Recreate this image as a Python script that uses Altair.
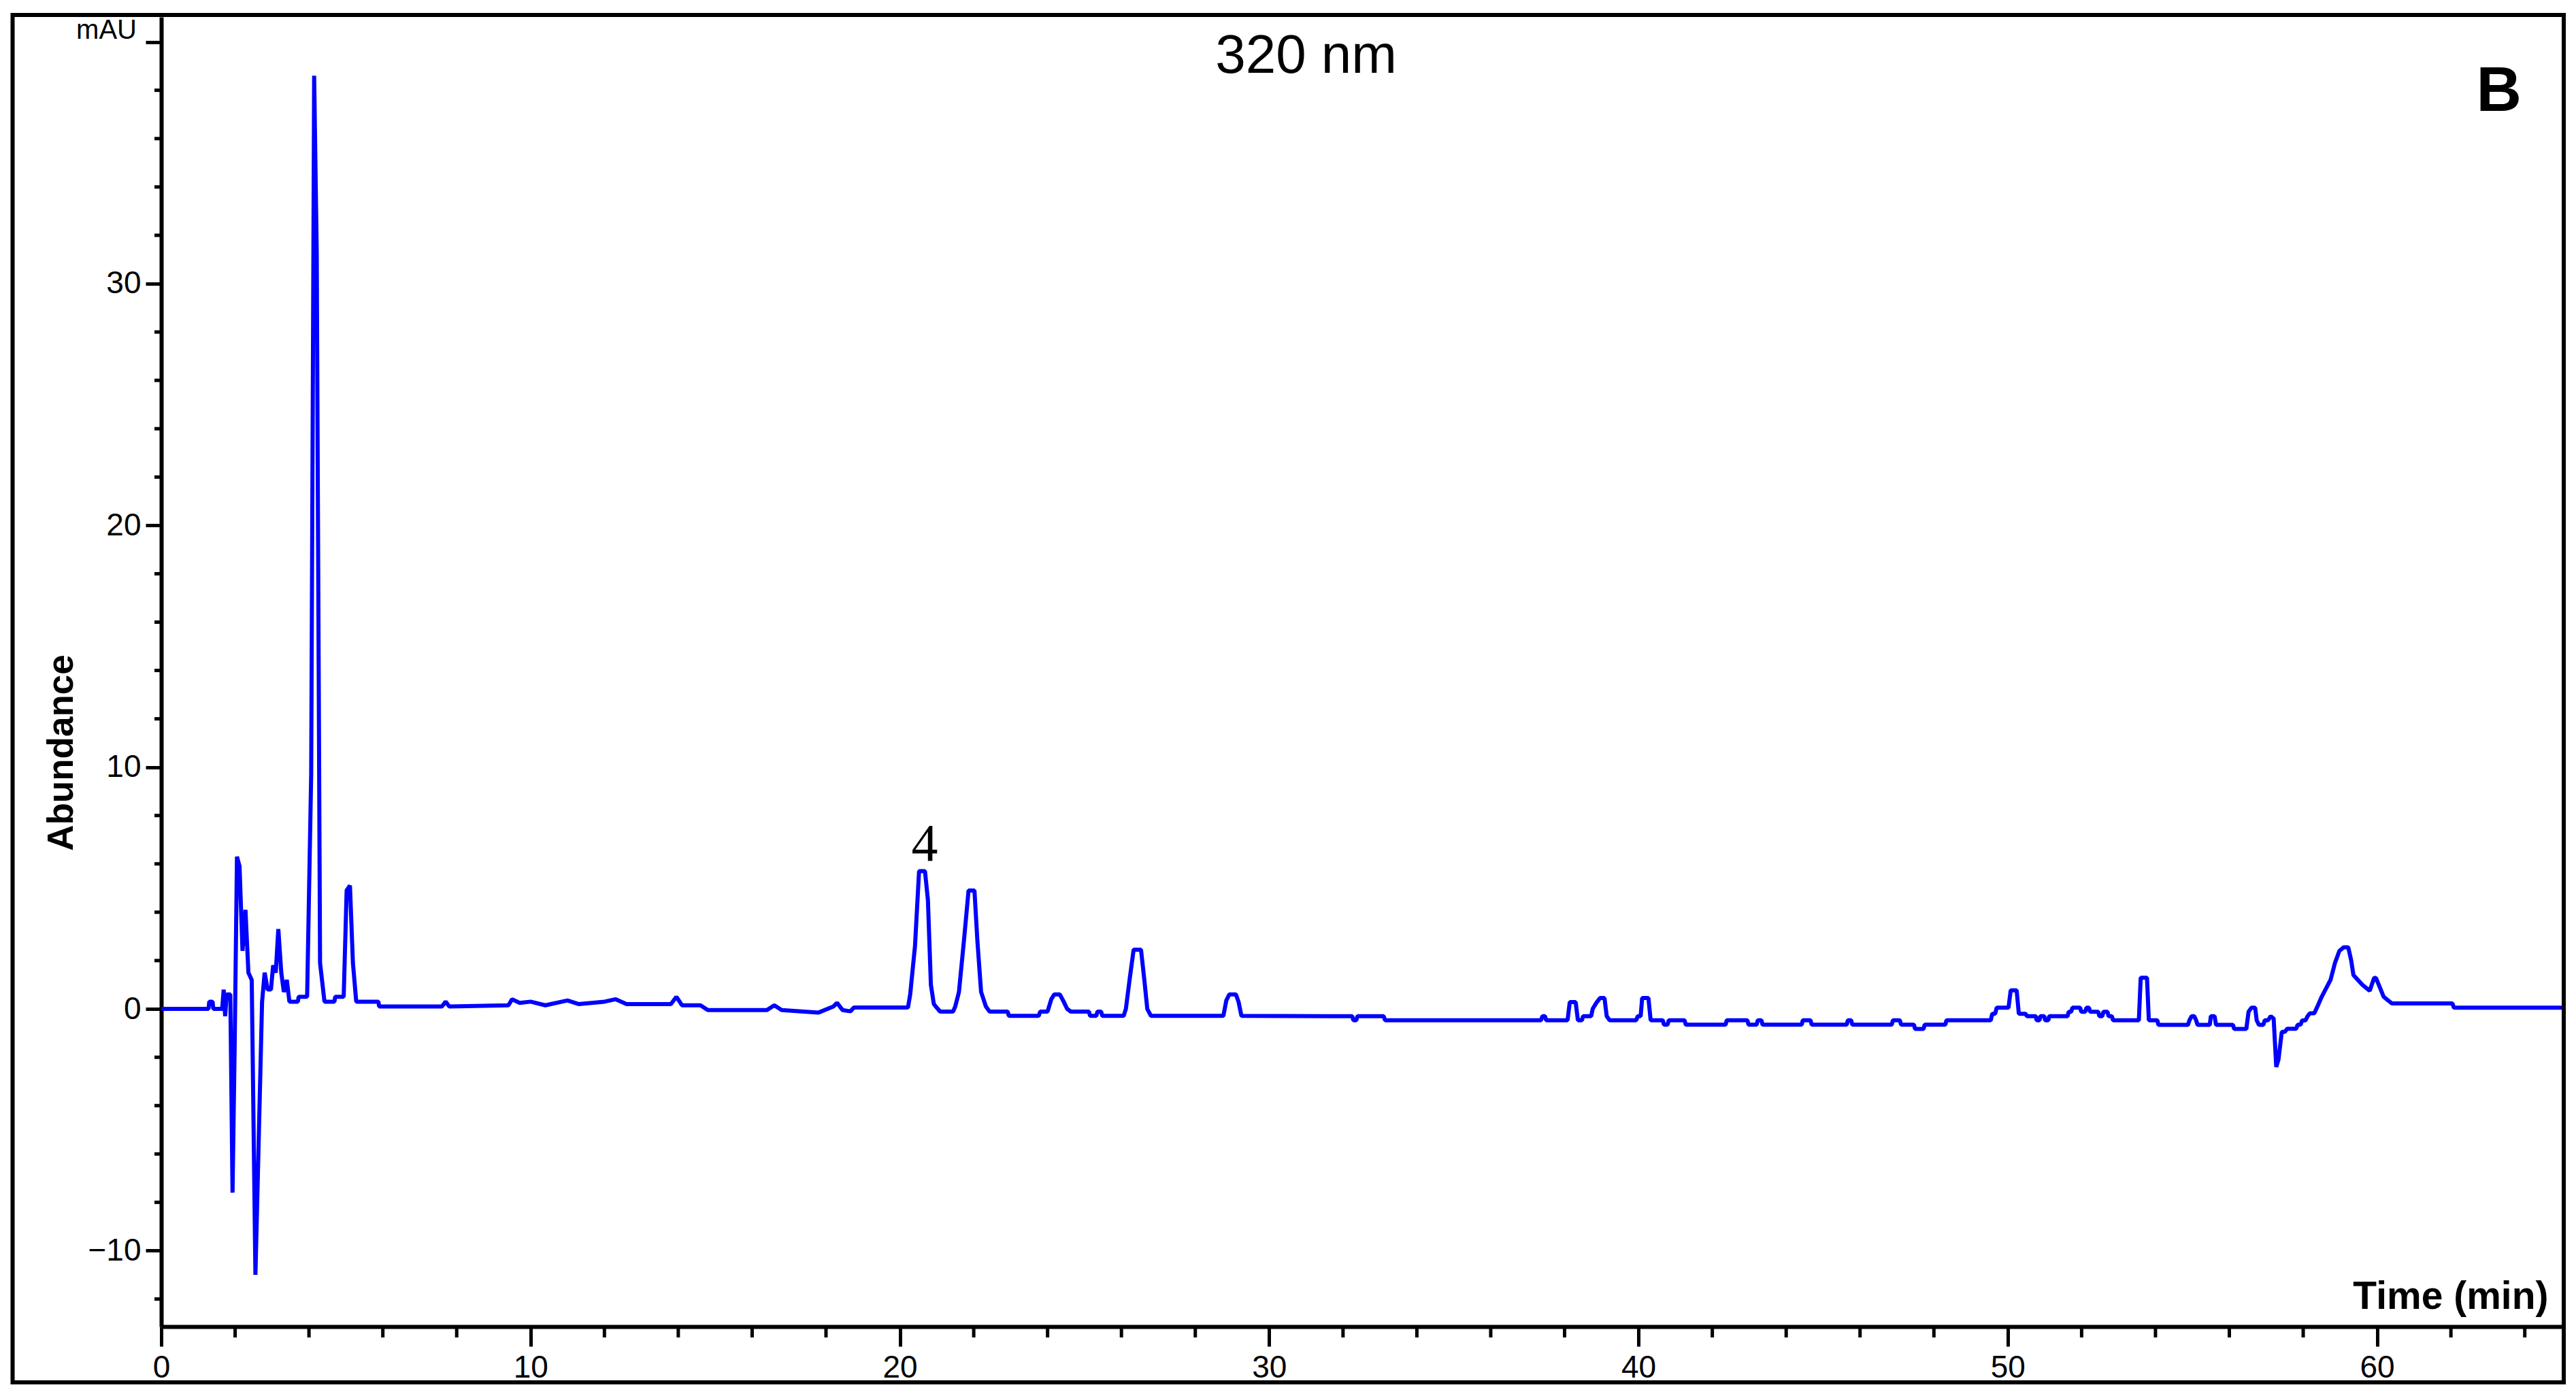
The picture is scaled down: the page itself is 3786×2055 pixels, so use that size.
import altair as alt
import pandas as pd

# ---------------- data ----------------
trace = [
    (0.00, 0.00), (1.28, 0.00), (1.30, 0.30), (1.39, 0.30), (1.41, 0.00), (1.65, 0.00),
    (1.69, 0.80), (1.73, -0.30), (1.77, 0.60), (1.87, 0.60), (1.93, -7.60), (1.99, -1.30),
    (2.05, 6.30), (2.12, 5.90), (2.20, 2.40), (2.28, 4.10), (2.36, 1.50), (2.45, 1.20),
    (2.55, -11.00), (2.63, -6.00), (2.73, 0.30), (2.80, 1.50), (2.88, 0.80), (2.97, 0.80),
    (3.03, 1.80), (3.10, 1.50), (3.17, 3.30), (3.25, 1.50), (3.32, 0.70), (3.40, 1.20),
    (3.47, 0.30), (3.70, 0.30), (3.72, 0.50), (3.95, 0.50), (4.06, 9.70), (4.14, 38.60),
    (4.21, 31.30), (4.30, 1.90), (4.42, 0.30), (4.69, 0.30), (4.71, 0.50), (4.94, 0.50),
    (5.02, 4.90), (5.11, 5.10), (5.19, 1.90), (5.28, 0.30), (5.88, 0.30), (5.90, 0.10),
    (7.60, 0.10), (7.70, 0.30), (7.80, 0.10), (9.40, 0.15), (9.50, 0.40), (9.70, 0.25),
    (10.00, 0.30), (10.40, 0.15), (11.00, 0.35), (11.30, 0.20), (12.00, 0.30), (12.30, 0.40),
    (12.60, 0.20), (13.80, 0.20), (13.95, 0.50), (14.10, 0.15), (14.60, 0.15), (14.80, -0.05),
    (16.40, -0.05), (16.60, 0.15), (16.80, -0.05), (17.80, -0.15), (18.20, 0.10), (18.30, 0.25),
    (18.45, -0.05), (18.66, -0.10), (18.76, 0.06),
    (20.22, 0.06), (20.28, 0.60), (20.41, 2.60), (20.52, 5.70), (20.68, 5.70), (20.76, 4.50),
    (20.84, 1.00), (20.92, 0.20), (21.00, 0.05), (21.09, -0.11), (21.44, -0.11), (21.50, 0.10),
    (21.60, 0.70), (21.74, 2.90), (21.86, 4.90), (22.02, 4.90), (22.10, 2.80), (22.20, 0.70),
    (22.33, 0.10), (22.43, -0.11), (22.92, -0.11), (22.95, -0.29), (23.76, -0.29), (23.80, -0.11),
    (24.00, -0.11), (24.10, 0.40), (24.18, 0.60), (24.33, 0.60), (24.42, 0.35), (24.53, 0.00),
    (24.63, -0.11), (25.12, -0.11), (25.15, -0.29), (25.32, -0.29), (25.35, -0.11), (25.45, -0.11),
    (25.48, -0.29), (26.06, -0.29), (26.12, 0.00), (26.22, 1.20), (26.33, 2.45), (26.53, 2.45),
    (26.62, 1.20), (26.70, 0.00), (26.80, -0.29), (28.76, -0.29), (28.84, 0.35), (28.92, 0.60),
    (29.10, 0.60), (29.17, 0.30), (29.25, -0.29), (31.55, -0.30),
    (32.25, -0.30), (32.28, -0.47), (32.36, -0.47), (32.39, -0.30), (33.10, -0.30), (33.14, -0.47),
    (37.36, -0.47), (37.40, -0.30), (37.47, -0.30), (37.50, -0.47), (38.08, -0.47), (38.14, 0.28),
    (38.30, 0.28), (38.36, -0.47), (38.47, -0.47), (38.50, -0.30), (38.72, -0.30), (38.76, 0.00),
    (38.86, 0.25), (38.96, 0.45), (39.08, 0.45), (39.14, -0.30), (39.22, -0.47), (39.94, -0.47),
    (39.98, -0.30), (40.06, -0.30), (40.10, 0.45), (40.27, 0.45), (40.33, -0.47), (40.66, -0.47),
    (40.69, -0.65), (40.79, -0.65), (40.82, -0.47), (41.25, -0.47), (41.28, -0.65), (42.36, -0.65),
    (42.39, -0.47), (42.95, -0.47), (42.98, -0.65), (43.20, -0.65), (43.23, -0.47), (43.33, -0.47),
    (43.36, -0.65), (44.42, -0.65), (44.45, -0.47), (44.66, -0.47), (44.69, -0.65), (45.64, -0.65),
    (45.67, -0.47), (45.76, -0.47), (45.79, -0.65), (46.86, -0.65), (46.89, -0.47), (47.08, -0.47),
    (47.11, -0.65), (47.46, -0.65), (47.49, -0.83), (47.72, -0.83), (47.75, -0.65), (48.31, -0.65),
    (48.34, -0.47), (49.54, -0.47),
    (49.58, -0.20), (49.66, -0.20), (49.70, 0.05), (50.02, 0.05), (50.08, 0.77), (50.24, 0.77),
    (50.30, -0.20), (50.48, -0.20), (50.52, -0.30), (50.76, -0.30), (50.78, -0.47), (50.86, -0.47),
    (50.88, -0.30), (50.99, -0.30), (51.01, -0.47), (51.10, -0.47), (51.12, -0.30), (51.62, -0.30),
    (51.65, -0.12), (51.72, -0.12), (51.75, 0.05), (51.96, 0.05), (51.99, -0.12), (52.10, -0.12),
    (52.13, 0.05), (52.20, 0.05), (52.23, -0.12), (52.45, -0.12), (52.48, -0.30), (52.56, -0.30),
    (52.59, -0.12), (52.70, -0.12), (52.73, -0.30), (52.82, -0.30), (52.85, -0.47), (53.55, -0.47),
    (53.60, 1.29), (53.77, 1.29), (53.82, -0.47), (54.05, -0.47), (54.08, -0.66), (54.88, -0.66),
    (54.92, -0.47), (54.98, -0.30), (55.05, -0.30), (55.10, -0.47), (55.14, -0.66), (55.47, -0.66),
    (55.50, -0.30), (55.60, -0.30), (55.64, -0.66), (56.10, -0.66), (56.13, -0.83), (56.46, -0.83),
    (56.52, -0.12), (56.60, 0.05), (56.70, 0.05), (56.74, -0.47), (56.80, -0.66), (56.92, -0.66),
    (56.96, -0.47), (57.05, -0.47), (57.12, -0.30), (57.20, -0.40), (57.27, -2.40), (57.33, -2.10),
    (57.42, -0.95), (57.50, -0.95), (57.57, -0.82), (57.81, -0.82), (57.85, -0.65), (57.93, -0.65),
    (57.97, -0.48), (58.06, -0.48), (58.12, -0.30), (58.18, -0.18), (58.30, -0.18), (58.40, 0.15),
    (58.50, 0.50), (58.62, 0.85), (58.74, 1.20), (58.86, 1.90), (58.98, 2.40), (59.10, 2.55),
    (59.22, 2.55), (59.30, 2.00), (59.36, 1.40), (59.45, 1.25), (59.60, 1.00), (59.80, 0.75),
    (59.92, 1.28), (59.97, 1.28), (60.06, 0.95), (60.18, 0.50), (60.30, 0.35), (60.40, 0.23),
    (62.04, 0.23), (62.08, 0.05), (65.00, 0.05),
]
time_min = [p[0] for p in trace]
abundance = [p[1] for p in trace]

x_major = [0, 10, 20, 30, 40, 50, 60]
x_minor = [t for t in range(2, 65, 2) if t % 10 != 0]
y_major = [-10, 0, 10, 20, 30, 40]
y_minor = [v for v in range(-12, 41, 2) if v % 10 != 0]

ann_text = ["4", "320 nm", "B"]
ann_t = [20.67, 31.0, 63.3]
ann_v = [6.14, 38.73, 37.15]

# ---------------- layout ----------------
W, H = 3528, 1925
XD = [0, 65]
YD = [-13.14, 41.03]
FONT = "Liberation Sans"

xs = alt.Scale(domain=XD, nice=False, zero=False)
ys = alt.Scale(domain=YD, nice=False, zero=False)

df = pd.DataFrame({"time": time_min, "abundance": abundance})

x_axis = alt.Axis(
    values=x_major, format="d", grid=False,
    domainColor="black", domainWidth=6,
    tickColor="black", tickWidth=5, tickSize=29,
    labelFont=FONT, labelFontSize=46, labelColor="black", labelPadding=9,
    labelFlush=False, labelOverlap=False, labelBound=False,
    title="Time (min)", titleFont=FONT, titleFontSize=57, titleFontWeight="bold",
    titleColor="black", titleX=3508, titleY=-27, titleAlign="right",
    titleBaseline="alphabetic", titleAnchor="end",
)
y_axis = alt.Axis(
    values=y_major, format="d", grid=False,
    labelExpr="datum.value == 40 ? '' : datum.label",
    domainColor="black", domainWidth=6,
    tickColor="black", tickWidth=5, tickSize=23,
    labelFont=FONT, labelFontSize=46, labelColor="black", labelPadding=7,
    labelFlush=False, labelOverlap=False, labelBound=False,
    title="Abundance", titleFont=FONT, titleFontSize=53, titleFontWeight="bold",
    titleColor="black", titleAngle=270, titleX=-131, titleY=1081,
    titleAlign="center", titleBaseline="alphabetic",
)

line = alt.Chart(df).mark_line(
    color="#0000FF", strokeWidth=6, strokeJoin="bevel", clip=True
).encode(
    x=alt.X("time:Q", scale=xs, axis=x_axis),
    y=alt.Y("abundance:Q", scale=ys, axis=y_axis),
)

xminor = alt.Chart(pd.DataFrame({"time": x_minor})).mark_rule(
    color="black", strokeWidth=5
).encode(
    x=alt.X("time:Q", scale=xs),
    y=alt.value(H), y2=alt.value(H + 16),
)

yminor = alt.Chart(pd.DataFrame({"abundance": y_minor})).mark_rule(
    color="black", strokeWidth=5
).encode(
    y=alt.Y("abundance:Q", scale=ys),
    x=alt.value(0), x2=alt.value(-10),
)

ann = pd.DataFrame({"label": ann_text, "time": ann_t, "abundance": ann_v})


def ann_layer(label, **style):
    return alt.Chart(ann[ann.label == label]).mark_text(
        color="black", align="center", baseline="alphabetic", **style
    ).encode(
        x=alt.X("time:Q", scale=xs),
        y=alt.Y("abundance:Q", scale=ys),
        text="label:N",
    )


peak_lbl = ann_layer("4", font="Liberation Serif", fontSize=78)
wl_lbl = ann_layer("320 nm", font=FONT, fontSize=80)
panel_lbl = ann_layer("B", font=FONT, fontSize=92, fontWeight="bold")

one = pd.DataFrame({"k": [0]})
unit_lbl = alt.Chart(one).mark_text(
    text="mAU", font=FONT, fontSize=40, color="black", align="right", baseline="alphabetic"
).encode(x=alt.value(-36), y=alt.value(32))

frame = alt.Chart(one).mark_rect(
    filled=False, color="black", strokeWidth=6
).encode(x=alt.value(-218.5), x2=alt.value(3531), y=alt.value(-3), y2=alt.value(2007))

chart = alt.layer(
    line, xminor, yminor, peak_lbl, wl_lbl, panel_lbl, unit_lbl, frame
).properties(
    width=W, height=H,
    autosize=alt.AutoSizeParams(type="none"),
    padding={"left": 229, "top": 17, "right": 10, "bottom": 90},
    background="white",
).configure_view(stroke=None)

chart.save("out.html", embed_options={"renderer": "svg", "actions": False})
